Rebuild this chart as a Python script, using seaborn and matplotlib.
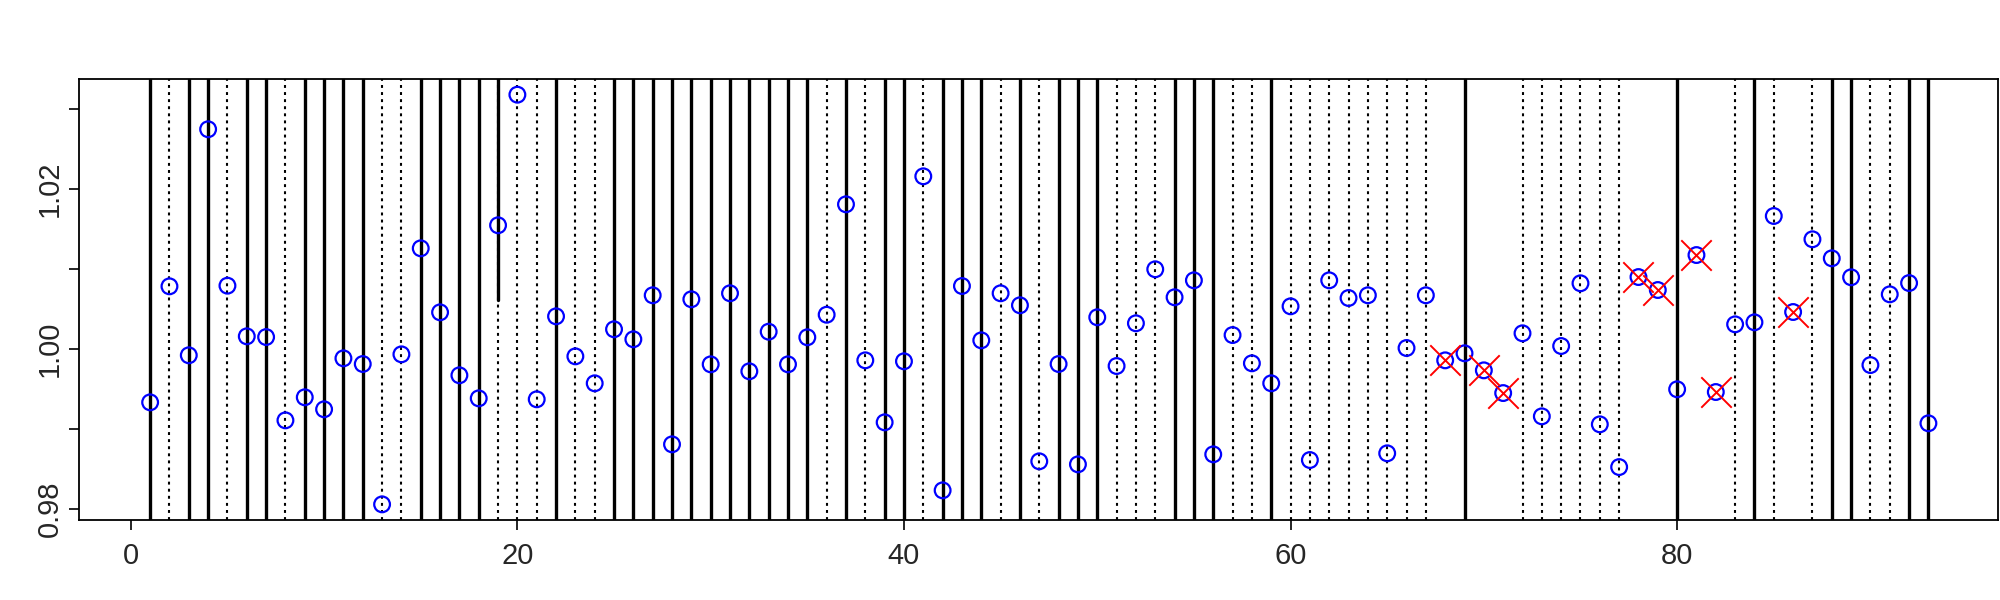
import numpy as np
import pandas as pd
import matplotlib
matplotlib.use("Agg")
import matplotlib.pyplot as plt
import seaborn as sns

# values, index 1..93
ratio = [0.99333, 1.00783, 0.99921, 1.02746, 1.00791, 1.00158, 1.00149, 0.99108, 0.99396, 0.99246,
         0.99883, 0.99812, 0.98058, 0.99933, 1.01258, 1.00458, 0.99671, 0.99383, 1.01546, 1.03178,
         0.99371, 1.00408, 0.99908, 0.99571, 1.00246, 1.00121, 1.00671, 0.98808, 1.00621, 0.99808,
         1.00696, 0.99721, 1.00216, 0.99808, 1.00146, 1.00428, 1.01808, 0.99858, 0.99083, 0.99846,
         1.02158, 0.98233, 1.00787, 1.00108, 1.00696, 1.00546, 0.98596, 0.99812, 0.98558, 1.00396,
         0.99787, 1.00321, 1.00996, 1.00646, 1.00858, 0.98683, 1.00174, 0.99821, 0.99571, 1.00533,
         0.98612, 1.00858, 1.00637, 1.00671, 0.98696, 1.00012, 1.00671, 0.99858, 0.99946, 0.99733,
         0.99449, 1.00196, 0.99158, 1.00037, 1.00821, 0.99058, 0.98524, 1.00899, 1.00737, 0.99496,
         1.01174, 0.99462, 1.00308, 1.00333, 1.01662, 1.00462, 1.01371, 1.01133, 1.00896, 0.99799,
         1.00683, 1.00824, 0.99071]
index = list(range(1, len(ratio) + 1))

# flagged points (red crosses)
flagged = [68, 70, 71, 78, 79, 81, 82, 86]

# vertical reference lines
solid_lines = [1, 3, 4, 6, 7, 9, 10, 11, 12, 15, 16, 17, 18, 22, 25, 26, 27, 28, 29, 30,
               31, 32, 33, 34, 35, 37, 39, 40, 42, 43, 44, 46, 48, 49, 50, 54, 55, 56, 59,
               69, 80, 84, 88, 89, 92, 93]
dotted_lines = [2, 5, 8, 13, 14, 19, 20, 21, 23, 24, 36, 38, 41, 45, 47, 51, 52, 53, 57, 58,
                60, 61, 62, 63, 64, 65, 66, 67, 72, 73, 74, 75, 76, 77, 83, 85, 87, 90, 91]
partial_line = 19
partial_from = 1.0061

yticks = [0.98, 0.99, 1.00, 1.01, 1.02, 1.03]
ytick_labels = ["0.98", "", "1.00", "", "1.02", ""]
xticks = [0, 20, 40, 60, 80]

df = pd.DataFrame({"index": index, "ratio": ratio})
df_flag = df[df["index"].isin(flagged)]

sns.set_style("white")
plt.rcParams["font.family"] = ["Liberation Sans", "DejaVu Sans"]

fig = plt.figure(figsize=(20, 6), dpi=100)
ax = fig.add_axes([0.0395, 0.1338, 0.9595, 0.7345])

for xv in solid_lines:
    ax.axvline(xv, color="black", lw=2.4, zorder=1)
for xv in dotted_lines:
    ax.axvline(xv, color="black", lw=1.5, dashes=(1.4, 2.0), zorder=1)
# solid piece on top of the dotted line at 19
ax.plot([partial_line, partial_line], [partial_from, 1.04], color="black", lw=2.4, zorder=1)

sns.scatterplot(data=df, x="index", y="ratio", ax=ax, marker="o", s=128,
                facecolor="none", edgecolor="#0000FF", linewidth=1.6, zorder=3)
sns.scatterplot(data=df_flag, x="index", y="ratio", ax=ax, marker="x", s=480,
                color="#FF0000", linewidth=1.4, zorder=4)

ax.set_xlim(-2.68, 96.6)
ax.set_ylim(0.97866, 1.03374)
ax.set_xticks(xticks)
ax.set_yticks(yticks)
ax.set_yticklabels(ytick_labels, rotation=90, va="center")
ax.set_xlabel("")
ax.set_ylabel("")
ax.tick_params(axis="both", direction="out", length=7, width=1.2, labelsize=21,
               bottom=True, left=True, color="black")
ax.tick_params(axis="x", pad=9)
ax.tick_params(axis="y", pad=4)
for sp in ax.spines.values():
    sp.set_linewidth(1.3)
    sp.set_color("black")

fig.savefig("out.png", dpi=100)
